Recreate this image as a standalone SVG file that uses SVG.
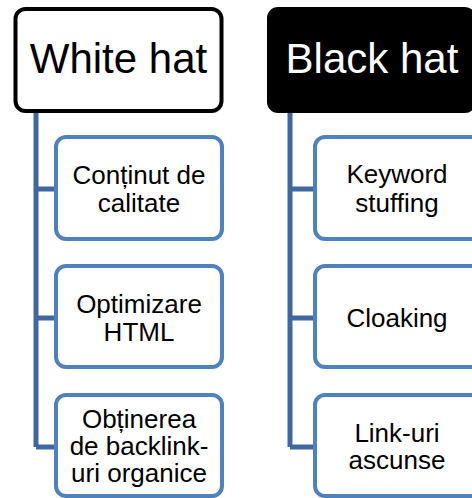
<svg xmlns="http://www.w3.org/2000/svg" width="472" height="498" viewBox="0 0 472 498">
<style>
.head{font-family:"Liberation Sans",Arial,sans-serif;font-size:42px;text-anchor:middle}
.child rect{fill:#ffffff;stroke:#4f81bd;stroke-width:4}
.child text{font-family:"Liberation Sans",Arial,sans-serif;font-size:26px;fill:#000;text-anchor:middle}
.conn{fill:none;stroke:#41689e;stroke-width:5}
</style>
<rect width="472" height="498" fill="#ffffff"/>
<g id="connectors">
<path class="conn" d="M36,113 V447 M36,189 H56 M36,318 H56 M36,447 H56"/>
<path class="conn" d="M290,113 V447 M290,189 H315 M290,318 H315 M290,447 H315"/>
</g>
<g id="white-hat">
<rect x="15.5" y="9" width="206" height="102" rx="10" fill="#ffffff" stroke="#000000" stroke-width="4"/>
<text class="head" x="118.5" y="73" fill="#000000">White hat</text>
</g>
<g id="black-hat">
<rect x="267" y="7" width="209" height="106" rx="11" fill="#000000"/>
<text class="head" x="372" y="73" fill="#ffffff">Black hat</text>
</g>
<g id="continut" class="child">
<rect x="56" y="137" width="166" height="102" rx="10"/>
<text x="139" y="184">Conținut de</text>
<text x="139" y="212">calitate</text>
</g>
<g id="optimizare" class="child">
<rect x="56" y="266" width="166" height="101" rx="10"/>
<text x="139" y="313">Optimizare</text>
<text x="139" y="341">HTML</text>
</g>
<g id="obtinerea" class="child">
<rect x="56" y="395" width="166" height="101" rx="10"/>
<text x="139" y="428">Obținerea</text>
<text x="139" y="455">de backlink-</text>
<text x="139" y="482">uri organice</text>
</g>
<g id="keyword" class="child">
<rect x="315" y="137" width="166" height="102" rx="10"/>
<text x="397" y="183">Keyword</text>
<text x="397" y="212">stuffing</text>
</g>
<g id="cloaking" class="child">
<rect x="315" y="266" width="166" height="101" rx="10"/>
<text x="397" y="327">Cloaking</text>
</g>
<g id="linkuri" class="child">
<rect x="315" y="395" width="166" height="101" rx="10"/>
<text x="397" y="442">Link-uri</text>
<text x="397" y="469">ascunse</text>
</g>
</svg>
